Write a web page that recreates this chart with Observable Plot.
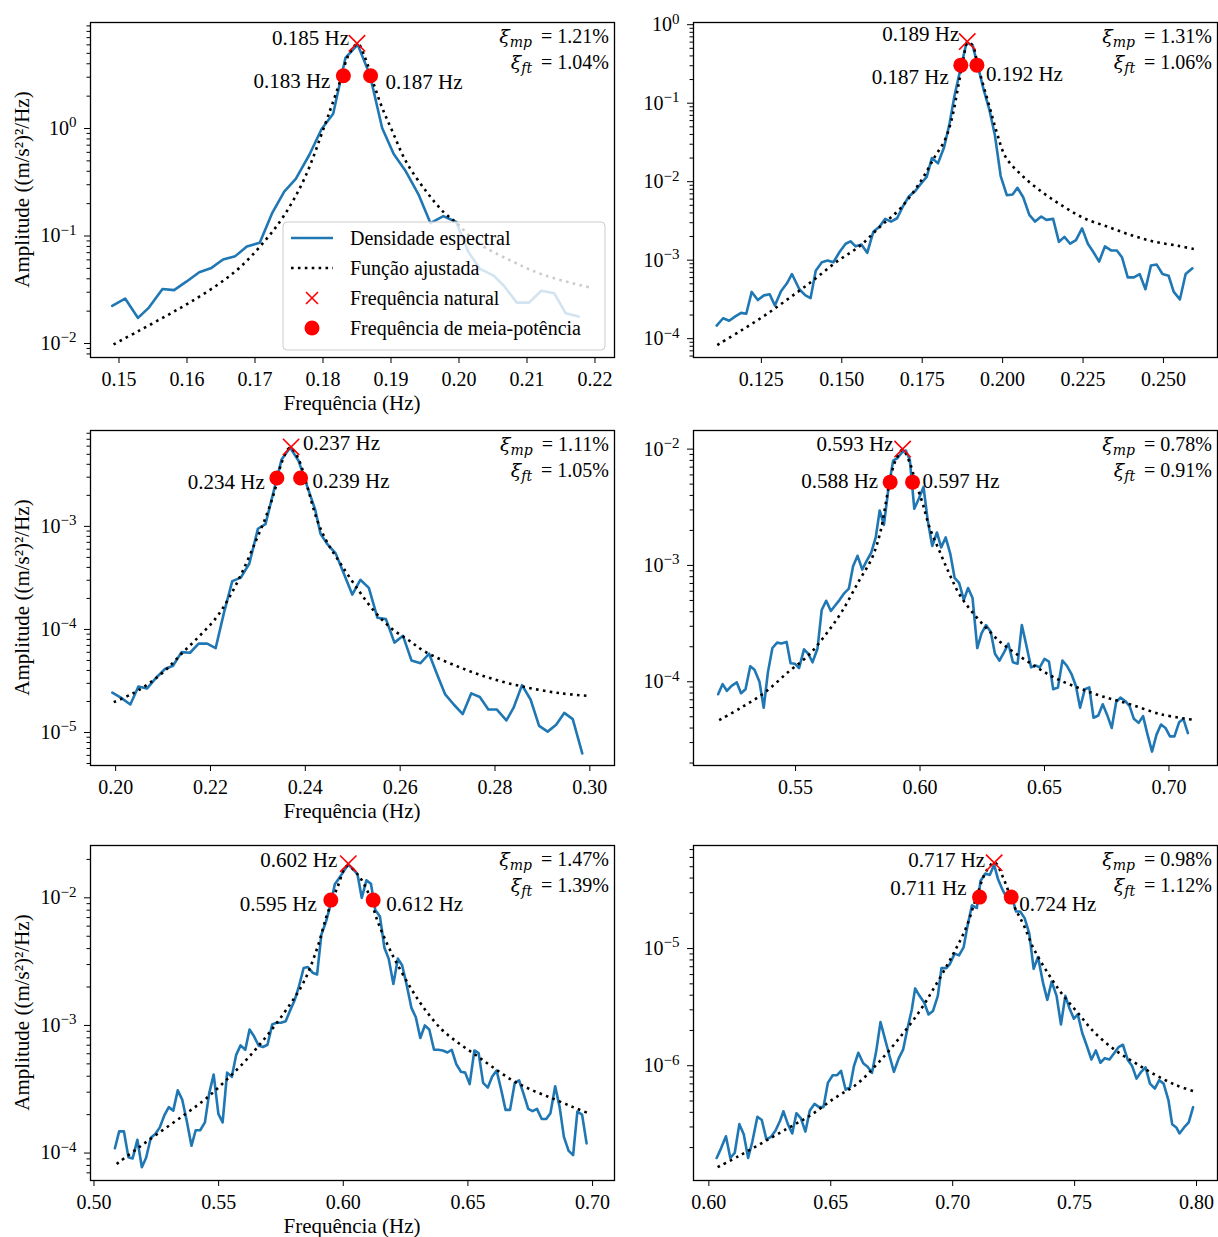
<!DOCTYPE html>
<html><head><meta charset="utf-8">
<script src="https://cdn.jsdelivr.net/npm/d3@7"></script>
<script src="https://cdn.jsdelivr.net/npm/@observablehq/plot@0.6"></script>
<style>
body{margin:0;background:#fff;}
#wrap{position:relative;width:1218px;height:1237px;overflow:hidden;}
.panel{position:absolute;}
</style>
</head><body><div id="wrap"></div>
<script>
// ---------- Panel 1 ----------
const psd1F = [0.1490,0.1509,0.1528,0.1544,0.1564,0.1581,0.1599,0.1618,0.1636,0.1653,0.1671,0.1688,0.1707,0.1725,0.1743,0.1760,0.1780,0.1798,0.1815,0.1833,0.1851,0.1869,0.1887,0.1904,0.1922,0.1941,0.1958,0.1977,0.1996,0.2014,0.2031,0.2051,0.2066,0.2085,0.2103,0.2121,0.2140,0.2157,0.2176];
const psd1A = [0.0224,0.0262,0.0173,0.0216,0.0321,0.0314,0.0376,0.046,0.0505,0.0604,0.065,0.080,0.0866,0.162,0.259,0.34,0.57,0.99,1.37,4.53,6.03,3.14,1.01,0.579,0.398,0.240,0.132,0.153,0.135,0.0708,0.0494,0.0428,0.0345,0.024,0.024,0.031,0.0294,0.0191,0.0178];
const fit1F = [0.1492,0.1529,0.1569,0.1604,0.1643,0.1678,0.1713,0.1743,0.1773,0.1803,0.1817,0.1827,0.1837,0.1851,0.1862,0.1875,0.1887,0.1902,0.1922,0.1952,0.1977,0.1997,0.2026,0.2076,0.2126,0.2196];
const fit1A = [0.0098,0.0131,0.0180,0.0241,0.0345,0.0512,0.0878,0.156,0.345,1.09,1.94,2.99,4.73,6.13,4.53,2.55,1.56,0.944,0.494,0.259,0.168,0.131,0.0879,0.0591,0.0431,0.0328];
// ---------- Panel 2 ----------
const psd2F = [0.1111,0.1131,0.1150,0.1169,0.1187,0.1203,0.1220,0.1239,0.1258,0.1276,
0.1292,0.1311,0.1329,0.1345,0.1368,0.1387,0.1403,0.1419,0.1438,0.1456,
0.1474,0.1493,0.1512,0.1527,0.1543,0.1561,0.1579,0.1598,0.1617,0.1635,
0.1653,0.1672,0.1690,0.1709,0.1728,0.1746,0.1764,0.1780,0.1799,0.1818,
0.1835,0.1851,0.1870,0.1888,0.1907,0.1923,0.1941,0.1959,0.1976,0.1994,
0.2013,0.2031,0.2046,0.2064,0.2083,0.2101,0.2120,0.2136,0.2157,0.2175,
0.2192,0.2210,0.2228,0.2247,0.2265,0.2282,0.2300,0.2318,0.2337,0.2355,
0.2371,0.2389,0.2408,0.2426,0.2444,0.2461,0.2479,0.2497,0.2516,0.2532,
0.2551,0.2569,0.2590];
const psd2A = [1.47e-4,1.82e-4,1.69e-4,1.92e-4,2.13e-4,2.08e-4,3.94e-4,3.10e-4,3.56e-4,3.67e-4,
2.64e-4,4.01e-4,5.04e-4,6.66e-4,4.26e-4,3.56e-4,3.29e-4,7.35e-4,9.42e-4,9.90e-4,
9.42e-4,1.27e-3,1.62e-3,1.74e-3,1.50e-3,1.58e-3,1.24e-3,2.30e-3,2.67e-3,3.36e-3,
3.10e-3,3.42e-3,4.84e-3,6.53e-3,7.57e-3,9.42e-3,1.15e-2,2.00e-2,1.71e-2,2.75e-2,
5.51e-2,0.128,0.284,0.597,0.541,0.298,0.149,0.082,0.039,1.18e-2,
6.73e-3,6.86e-3,8.36e-3,6.33e-3,3.78e-3,3.10e-3,3.60e-3,3.26e-3,3.36e-3,1.71e-3,
1.98e-3,1.62e-3,1.80e-3,2.54e-3,1.62e-3,1.27e-3,9.60e-4,1.50e-3,1.33e-3,1.33e-3,
1.09e-3,6.03e-4,6.03e-4,6.66e-4,4.26e-4,8.53e-4,8.79e-4,6.66e-4,6.33e-4,3.94e-4,
3.16e-4,6.66e-4,7.88e-4];
const fit2F = [0.1113,0.1187,0.1261,0.1334,0.1408,0.1482,0.1556,0.1619,0.1683,0.1746,0.1788,0.1820,0.1841,0.1862,0.1878,0.1891,0.1906,0.1923,0.1941,0.1962,0.1983,0.2010,0.2062,0.2126,0.2189,0.2253,0.2326,0.2400,0.2474,0.2547,0.2600];
const fit2A = [8.3e-5,1.27e-4,1.98e-4,3.23e-4,5.41e-4,9.42e-4,1.52e-3,2.67e-3,4.61e-3,1.02e-2,2.04e-2,3.36e-2,6.08e-2,0.164,0.363,0.585,0.551,0.298,0.164,0.082,0.0409,0.0204,0.0118,7.21e-3,4.84e-3,3.42e-3,2.67e-3,2.08e-3,1.71e-3,1.52e-3,1.37e-3];
// ---------- Panel 3 ----------
const psd3F = [0.1993,0.2011,0.2031,0.2048,0.2066,0.2086,0.2104,0.2121,0.2139,0.2157,
0.2175,0.2193,0.2211,0.2229,0.2246,0.2264,0.2282,0.2300,0.2316,0.2334,
0.2350,0.2368,0.2386,0.2404,0.2421,0.2432,0.2446,0.2464,0.2482,0.2499,
0.2516,0.2534,0.2552,0.2570,0.2588,0.2606,0.2624,0.2643,0.2661,0.2679,
0.2695,0.2713,0.2732,0.2750,0.2768,0.2786,0.2804,0.2824,0.2839,0.2857,
0.2875,0.2893,0.2911,0.2929,0.2946,0.2964,0.2984];
const psd3A = [2.44e-5,2.18e-5,1.87e-5,2.79e-5,2.67e-5,3.42e-5,4.13e-5,4.45e-5,6.03e-5,5.94e-5,
7.28e-5,7.28e-5,6.60e-5,1.49e-4,2.94e-4,3.18e-4,4.36e-4,9.48e-4,1.05e-3,2.26e-3,
4.46e-3,5.81e-3,4.30e-3,2.44e-3,1.44e-3,8.47e-4,6.76e-4,5.47e-4,3.42e-4,2.18e-4,
3.03e-4,2.53e-4,1.30e-4,1.26e-4,7.45e-5,8.67e-5,4.99e-5,4.70e-5,5.81e-5,3.56e-5,
2.34e-5,1.87e-5,1.51e-5,2.40e-5,2.21e-5,1.67e-5,1.67e-5,1.31e-5,1.73e-5,2.88e-5,
2.09e-5,1.16e-5,1.02e-5,1.19e-5,1.55e-5,1.35e-5,6.27e-6];
const fit3F = [0.1996,0.2032,0.2068,0.2104,0.2139,0.2175,0.2211,0.2239,0.2268,0.2296,0.2318,0.2336,0.2350,0.2368,0.2386,0.2404,0.2425,0.2446,0.2475,0.2511,0.2546,0.2582,0.2618,0.2654,0.2725,0.2796,0.2868,0.2939,0.3000];
const fit3A = [1.97e-5,2.34e-5,2.94e-5,3.98e-5,5.81e-5,8.47e-5,1.28e-4,2.02e-4,3.69e-4,7.28e-4,1.28e-3,2.26e-3,4.13e-3,5.81e-3,4.46e-3,2.44e-3,1.15e-3,7.01e-4,4.30e-4,2.44e-4,1.49e-4,1.02e-4,7.85e-5,6.03e-5,4.30e-5,3.30e-5,2.73e-5,2.40e-5,2.26e-5];
// ---------- Panel 4 ----------
const psd4F = [0.5189,0.5207,0.5224,0.5243,0.5264,0.5281,0.5299,0.5318,0.5335,0.5355,
0.5372,0.5389,0.5407,0.5426,0.5443,0.5464,0.5480,0.5497,0.5514,0.5534,
0.5551,0.5568,0.5588,0.5605,0.5623,0.5642,0.5659,0.5677,0.5696,0.5714,
0.5731,0.5749,0.5768,0.5785,0.5804,0.5822,0.5838,0.5855,0.5873,0.5892,
0.5909,0.5927,0.5943,0.5959,0.5977,0.5995,0.6014,0.6031,0.6049,0.6068,
0.6085,0.6103,0.6122,0.6139,0.6157,0.6176,0.6193,0.6211,0.6230,0.6247,
0.6265,0.6284,0.6301,0.6319,0.6338,0.6355,0.6373,0.6392,0.6409,0.6427,
0.6446,0.6464,0.6481,0.6500,0.6518,0.6535,0.6554,0.6572,0.6589,0.6608,
0.6626,0.6643,0.6662,0.6680,0.6697,0.6716,0.6734,0.6751,0.6770,0.6788,
0.6805,0.6824,0.6842,0.6859,0.6878,0.6896,0.6914,0.6932,0.6950,0.6968,
0.6986,0.7004,0.7022,0.7041,0.7058,0.7076];
const psd4A = [7.81e-5,9.55e-5,8.36e-5,9.23e-5,9.86e-5,7.96e-5,8.63e-5,1.36e-4,1.27e-4,1.00e-4,
5.98e-5,1.21e-4,1.95e-4,2.17e-4,2.13e-4,2.20e-4,1.44e-4,1.43e-4,1.31e-4,1.90e-4,
1.74e-4,1.47e-4,1.92e-4,4.14e-4,4.97e-4,4.06e-4,4.52e-4,5.06e-4,5.78e-4,6.31e-4,
9.86e-4,1.21e-3,9.23e-4,1.09e-3,1.29e-3,1.74e-3,2.97e-3,2.23e-3,4.58e-3,7.96e-3,
8.36e-3,9.35e-3,9.73e-3,8.07e-3,3.07e-3,3.75e-3,4.73e-3,2.43e-3,1.47e-3,1.92e-3,
1.43e-3,1.74e-3,1.25e-3,7.81e-4,7.07e-4,5.06e-4,6.40e-4,5.24e-4,1.95e-4,2.60e-4,
3.07e-4,2.69e-4,1.74e-4,1.52e-4,1.80e-4,2.13e-4,1.47e-4,1.43e-4,3.07e-4,2.06e-4,
1.33e-4,1.38e-4,1.33e-4,1.57e-4,1.49e-4,8.63e-5,8.93e-5,1.52e-4,1.38e-4,1.17e-4,
9.23e-5,5.98e-5,8.63e-5,8.93e-5,4.90e-5,5.13e-5,6.40e-5,5.24e-5,4.01e-5,6.70e-5,
7.31e-5,6.84e-5,6.18e-5,4.80e-5,4.43e-5,5.06e-5,3.51e-5,2.51e-5,3.51e-5,4.29e-5,
4.01e-5,3.39e-5,3.39e-5,4.49e-5,4.80e-5,3.62e-5];
const fit4F = [0.5193,0.5281,0.5376,0.5470,0.5551,0.5619,0.5686,0.5754,0.5808,0.5842,0.5862,0.5882,0.5903,0.5930,0.5957,0.5984,0.6011,0.6038,0.6078,0.6119,0.6159,0.6214,0.6268,0.6322,0.6376,0.6457,0.6538,0.6632,0.6727,0.6835,0.6970,0.7092];
const fit4A = [4.68e-5,5.98e-5,8.07e-5,1.21e-4,1.68e-4,2.51e-4,4.01e-4,7.31e-4,1.17e-3,1.99e-3,3.39e-3,5.78e-3,8.07e-3,9.86e-3,7.81e-3,5.06e-3,3.39e-3,2.13e-3,1.33e-3,8.36e-4,5.60e-4,3.87e-4,2.87e-4,2.20e-4,1.80e-4,1.38e-4,1.09e-4,8.93e-5,7.55e-5,6.49e-5,5.24e-5,4.73e-5];
// ---------- Panel 5 ----------
const psd5F = [0.5084,0.5101,0.5120,0.5138,0.5155,0.5174,0.5192,0.5209,0.5228,0.5246,
0.5264,0.5282,0.5300,0.5318,0.5336,0.5354,0.5372,0.5391,0.5408,0.5426,
0.5445,0.5462,0.5480,0.5499,0.5516,0.5534,0.5553,0.5570,0.5588,0.5607,
0.5624,0.5642,0.5661,0.5678,0.5696,0.5715,0.5732,0.5750,0.5769,0.5786,
0.5804,0.5823,0.5841,0.5858,0.5877,0.5895,0.5912,0.5931,0.5949,0.5966,
0.5985,0.6003,0.6020,0.6039,0.6057,0.6074,0.6093,0.6111,0.6128,0.6147,
0.6165,0.6182,0.6201,0.6219,0.6236,0.6255,0.6273,0.6291,0.6309,0.6327,
0.6345,0.6364,0.6381,0.6399,0.6418,0.6435,0.6453,0.6472,0.6489,0.6507,
0.6526,0.6543,0.6561,0.6580,0.6597,0.6615,0.6634,0.6651,0.6669,0.6688,
0.6705,0.6723,0.6742,0.6759,0.6777,0.6796,0.6814,0.6831,0.6850,0.6868,
0.6885,0.6904,0.6922,0.6939,0.6958,0.6976];
const psd5A = [1.09e-4,1.48e-4,1.48e-4,9.29e-5,9.08e-5,1.27e-4,7.74e-5,9.18e-5,1.32e-4,1.41e-4,
1.59e-4,1.97e-4,2.29e-4,2.15e-4,3.10e-4,2.62e-4,1.79e-4,1.14e-4,1.51e-4,1.51e-4,
1.74e-4,2.92e-4,4.13e-4,2.03e-4,1.74e-4,4.27e-4,3.96e-4,5.85e-4,6.98e-4,6.45e-4,
9.29e-4,8.22e-4,6.93e-4,6.78e-4,7.06e-4,1.02e-3,1.05e-3,1.05e-3,1.08e-3,1.30e-3,
1.56e-3,2.05e-3,2.82e-3,2.87e-3,2.59e-3,2.51e-3,5.12e-3,6.53e-3,8.85e-3,1.28e-2,
1.44e-2,1.63e-2,1.82e-2,1.68e-2,1.53e-2,1.00e-2,1.37e-2,1.29e-2,8.08e-3,7.15e-3,
4.06e-3,3.34e-3,2.11e-3,3.34e-3,2.96e-3,2.05e-3,1.38e-3,1.16e-3,7.98e-4,1.00e-3,
9.29e-4,6.45e-4,6.45e-4,6.37e-4,6.14e-4,6.45e-4,4.99e-4,4.34e-4,4.27e-4,3.47e-4,
6.37e-4,6.07e-4,3.55e-4,3.26e-4,3.96e-4,4.43e-4,3.10e-4,2.18e-4,2.18e-4,3.55e-4,
3.72e-4,2.92e-4,2.22e-4,2.13e-4,2.22e-4,1.85e-4,1.85e-4,2.05e-4,3.34e-4,2.29e-4,
1.34e-4,1.04e-4,9.64e-5,2.11e-4,2.00e-4,1.19e-4];
const fit5F = [0.5091,0.5178,0.5273,0.5368,0.5449,0.5530,0.5611,0.5692,0.5773,0.5841,0.5895,0.5935,0.5976,0.6016,0.6057,0.6097,0.6138,0.6178,0.6219,0.6273,0.6327,0.6395,0.6462,0.6530,0.6597,0.6678,0.6759,0.6841,0.6922,0.6989];
const fit5A = [8.22e-5,1.10e-4,1.50e-4,2.03e-4,2.67e-4,3.72e-4,5.37e-4,8.22e-4,1.34e-3,2.18e-3,4.01e-3,7.38e-3,1.20e-2,1.78e-2,1.53e-2,1.13e-2,6.53e-3,4.27e-3,2.96e-3,1.93e-3,1.34e-3,9.29e-4,7.28e-4,5.89e-4,4.75e-4,3.72e-4,3.10e-4,2.67e-4,2.29e-4,2.03e-4];
// ---------- Panel 6 ----------
const psd6F = [0.6032,0.6050,0.6070,0.6088,0.6106,0.6125,0.6143,0.6161,0.6178,0.6199,
0.6217,0.6236,0.6255,0.6273,0.6292,0.6306,0.6324,0.6342,0.6359,0.6377,
0.6396,0.6414,0.6433,0.6452,0.6470,0.6488,0.6508,0.6526,0.6542,0.6561,
0.6579,0.6595,0.6613,0.6633,0.6651,0.6669,0.6686,0.6704,0.6723,0.6741,
0.6759,0.6779,0.6797,0.6815,0.6832,0.6846,0.6864,0.6883,0.6901,0.6919,
0.6939,0.6954,0.6974,0.6989,0.7008,0.7026,0.7045,0.7061,0.7079,0.7099,
0.7114,0.7134,0.7152,0.7170,0.7186,0.7204,0.7224,0.7242,0.7260,0.7277,
0.7295,0.7314,0.7332,0.7350,0.7370,0.7388,0.7406,0.7426,0.7444,0.7462,
0.7478,0.7497,0.7513,0.7531,0.7551,0.7569,0.7587,0.7606,0.7624,0.7643,
0.7662,0.7680,0.7698,0.7718,0.7736,0.7754,0.7773,0.7791,0.7809,0.7829,
0.7847,0.7865,0.7885,0.7900,0.7917,0.7930,0.7949,0.7968,0.7986];
const psd6A = [1.63e-7,1.97e-7,2.50e-7,1.63e-7,1.80e-7,3.17e-7,2.60e-7,1.63e-7,2.23e-7,3.67e-7,
3.44e-7,2.35e-7,2.47e-7,2.78e-7,3.39e-7,4.08e-7,3.17e-7,2.64e-7,3.93e-7,3.57e-7,
2.74e-7,4.14e-7,4.72e-7,4.43e-7,4.43e-7,7.13e-7,8.30e-7,8.30e-7,9.05e-7,6.24e-7,
6.58e-7,9.93e-7,1.29e-6,1.05e-6,9.80e-7,8.69e-7,1.32e-6,2.36e-6,1.67e-6,1.21e-6,
8.87e-7,1.16e-6,1.38e-6,2.10e-6,2.99e-6,4.57e-6,3.95e-6,3.46e-6,2.74e-6,2.93e-6,
3.95e-6,6.81e-6,6.81e-6,7.41e-6,9.06e-6,8.75e-6,1.03e-5,1.57e-5,2.34e-5,2.22e-5,
3.77e-5,4.37e-5,4.25e-5,5.19e-5,3.90e-5,3.19e-5,2.67e-5,2.80e-5,2.07e-5,2.07e-5,
1.82e-5,1.35e-5,6.71e-6,8.47e-6,5.15e-6,3.65e-6,5.22e-6,3.95e-6,2.25e-6,3.95e-6,
3.13e-6,2.52e-6,2.74e-6,1.91e-6,1.46e-6,1.13e-6,1.35e-6,1.06e-6,1.16e-6,1.13e-6,
1.28e-6,1.44e-6,1.51e-6,1.12e-6,9.93e-7,7.76e-7,8.87e-7,9.68e-7,7.03e-7,6.37e-7,
7.52e-7,7.03e-7,5.05e-7,3.17e-7,2.97e-7,2.64e-7,2.97e-7,3.28e-7,4.43e-7];
const fit6F = [0.6036,0.6122,0.6220,0.6317,0.6414,0.6512,0.6609,0.6693,0.6776,0.6860,0.6929,0.6999,0.7054,0.7096,0.7138,0.7172,0.7207,0.7249,0.7291,0.7332,0.7388,0.7444,0.7513,0.7583,0.7666,0.7750,0.7833,0.7917,0.8000];
const fit6A = [1.36e-7,1.69e-7,2.20e-7,2.87e-7,3.74e-7,5.22e-7,7.03e-7,1.05e-6,1.67e-6,2.83e-6,4.82e-6,8.75e-6,1.49e-5,2.70e-5,4.60e-5,5.43e-5,4.03e-5,2.37e-5,1.59e-5,1.00e-5,6.28e-6,4.22e-6,2.83e-6,1.91e-6,1.36e-6,1.05e-6,8.30e-7,6.81e-7,5.96e-7];

// ---------- Peaks & damping ----------
const naturalFreq = [0.185, 0.189, 0.237, 0.593, 0.602, 0.717];
const naturalAmp  = [6.2, 0.61, 5.9e-3, 1.0e-2, 1.85e-2, 5.4e-5];
const halfLowFreq  = [0.183, 0.187, 0.234, 0.588, 0.595, 0.711];
const halfHighFreq = [0.187, 0.192, 0.239, 0.597, 0.612, 0.724];
const halfAmp = [3.1, 0.305, 2.95e-3, 5.2e-3, 9.6e-3, 2.75e-5];
const xiMp = ["1.21", "1.31", "1.11", "0.78", "1.47", "0.98"];
const xiFt = ["1.04", "1.06", "1.05", "0.91", "1.39", "1.12"];

// ---------- Tick labels ----------
const xTicks = [
  [0.15, 0.16, 0.17, 0.18, 0.19, 0.20, 0.21, 0.22],
  [0.125, 0.150, 0.175, 0.200, 0.225, 0.250],
  [0.20, 0.22, 0.24, 0.26, 0.28, 0.30],
  [0.55, 0.60, 0.65, 0.70],
  [0.50, 0.55, 0.60, 0.65, 0.70],
  [0.60, 0.65, 0.70, 0.75, 0.80]
];
const xTickFormat = [".2f", ".3f", ".2f", ".2f", ".2f", ".2f"];
const xLabel = "Frequência (Hz)";
const yLabel = "Amplitude ((m/s²)²/Hz)";
const legendLabels = ["Densidade espectral", "Função ajustada", "Frequência natural", "Frequência de meia-potência"];

// ---------- Layout (scale domains) ----------
const xDomains = [[0.14581, 0.22287], [0.1039, 0.2668], [0.1947, 0.3052], [0.509, 0.7195], [0.4986, 0.7088], [0.5937, 0.8086]];
const yLogDomains = [[-2.13, 0.986], [-4.24, 0.028], [-5.32, -2.07], [-4.72, -1.84], [-4.215, -1.59], [-6.98, -4.12]];
// label offsets: [dx, dy, anchor] for natural, low, high
const labelStyle = [
  [[-8,-5,"end"],[-13,6,"end"],[15,7,"start"]],
  [[-8,-7,"end"],[-12,12,"end"],[9,9,"start"]],
  [[12,-4,"start"],[-12,4,"end"],[12,3,"start"]],
  [[-9,-5,"end"],[-12,-1,"end"],[10,-1,"start"]],
  [[-11,-3,"end"],[-14,4,"end"],[13,4,"start"]],
  [[-9,-3,"end"],[-13,-9,"end"],[8,7,"start"]]
];

const psdF = [psd1F, psd2F, psd3F, psd4F, psd5F, psd6F];
const psdA = [psd1A, psd2A, psd3A, psd4A, psd5A, psd6A];
const fitF = [fit1F, fit2F, fit3F, fit4F, fit5F, fit6F];
const fitA = [fit1A, fit2A, fit3A, fit4A, fit5A, fit6A];

const BLUE = "#1f77b4";
const FONT = "'Liberation Serif', 'Times New Roman', serif";
const MATHFONT = "'DejaVu Serif', serif";
const frameLefts = [90, 693];
const frameTops = [22, 430, 845];
const FW = 524, FH = 335;
const fmt3 = d3.format(".3f");

const wrap = document.getElementById("wrap");

for (let i = 0; i < 6; i++) {
  const col = i % 2, row = Math.floor(i / 2);
  const mL = col ? 70 : 90, mR = col ? 1 : 10, mT = 22, mB = 70;
  const W = mL + FW + mR, H = mT + FH + mB;
  const n = Math.min(psdF[i].length, psdA[i].length);
  const psd = d3.range(n).map(k => ({f: psdF[i][k], a: psdA[i][k]}));
  const m = Math.min(fitF[i].length, fitA[i].length);
  const fit = d3.range(m).map(k => ({f: fitF[i][k], a: fitA[i][k]}));
  const nat = [{f: naturalFreq[i], a: naturalAmp[i]}];
  const low = [{f: halfLowFreq[i], a: halfAmp[i]}];
  const high = [{f: halfHighFreq[i], a: halfAmp[i]}];
  const [lo, hi] = yLogDomains[i];
  const majors = d3.range(Math.ceil(lo), Math.floor(hi) + 1).map(e => Math.pow(10, e));
  const minors = [];
  for (let e = Math.floor(lo); e <= Math.ceil(hi); e++) for (let k = 2; k <= 9; k++) {
    const v = k * Math.pow(10, e);
    if (Math.log10(v) >= lo && Math.log10(v) <= hi) minors.push(v);
  }
  const ls = labelStyle[i];
  const plot = Plot.plot({
    width: W, height: H, marginLeft: mL, marginRight: mR, marginTop: mT, marginBottom: mB,
    x: {domain: xDomains[i]},
    y: {type: "log", domain: [Math.pow(10, lo), Math.pow(10, hi)]},
    style: {fontFamily: FONT, fontSize: "20px", background: "transparent", overflow: "visible", color: "black"},
    marks: [
      Plot.line(psd, {x: "f", y: "a", stroke: BLUE, strokeWidth: 2.6}),
      Plot.line(fit, {x: "f", y: "a", stroke: "black", strokeWidth: 2.6, strokeDasharray: "2.6,4.3", strokeLinecap: "butt", curve: "catmull-rom"}),
      Plot.dot(nat, {x: "f", y: "a", symbol: "times", r: 7.5, stroke: "red", strokeWidth: 1.6}),
      Plot.dot(low.concat(high), {x: "f", y: "a", r: 7.5, fill: "red", stroke: "none"}),
      Plot.text(nat, {x: "f", y: "a", text: d => fmt3(d.f) + " Hz", dx: ls[0][0], dy: ls[0][1], textAnchor: ls[0][2], fontSize: 21}),
      Plot.text(low, {x: "f", y: "a", text: d => fmt3(d.f) + " Hz", dx: ls[1][0], dy: ls[1][1], textAnchor: ls[1][2], fontSize: 21}),
      Plot.text(high, {x: "f", y: "a", text: d => fmt3(d.f) + " Hz", dx: ls[2][0], dy: ls[2][1], textAnchor: ls[2][2], fontSize: 21}),
      Plot.axisX({ticks: xTicks[i], tickFormat: d3.format(xTickFormat[i]), tickSize: 6, tickPadding: 8, label: null, fontSize: 20}),
      Plot.axisY({ticks: majors, tickFormat: d => "10^" + Math.round(Math.log10(d)), tickSize: 6, tickPadding: 8, label: null, fontSize: 20}),
      Plot.axisY({ticks: minors, tickFormat: () => "", tickSize: 3.5, label: null}),
      Plot.frame({stroke: "black", strokeWidth: 1.3})
    ]
  });
  const svg = d3.select(plot);
  // superscript exponents on log tick labels
  svg.selectAll("text").each(function() {
    const t = this.textContent;
    const mm = /^10\^(-?\d+)$/.exec(t);
    if (mm) {
      const sel = d3.select(this);
      sel.text(null);
      sel.append("tspan").text("10");
      sel.append("tspan").attr("font-size", "15px").attr("dy", "-0.5em").text(mm[1].replace("-", "\u2212"));
    }
  });
  const g = svg.append("g").attr("font-family", FONT).attr("fill", "black");
  // damping annotation
  const rx = mL + FW - 5;
  [["mp", xiMp[i], 15], ["ft", xiFt[i], 41]].forEach(([sub, val, yy]) => {
    const t = g.append("text").attr("x", rx).attr("y", mT + yy + 6).attr("text-anchor", "end").attr("font-size", "20px");
    t.append("tspan").attr("font-family", MATHFONT).attr("font-style", "italic").attr("font-size", "19px").text("ξ");
    t.append("tspan").attr("font-family", MATHFONT).attr("font-style", "italic").attr("font-size", "14px").attr("dy", "4").text(sub);
    t.append("tspan").attr("dy", "-4").text("\u2009 = " + val + "%");
  });
  if (col === 0) {
    g.append("text").attr("x", mL + FW / 2).attr("y", mT + FH + 53).attr("text-anchor", "middle").attr("font-size", "21px").text(xLabel);
    g.append("text").attr("transform", `translate(${29 - (frameLefts[0] - mL)},${mT + FH / 2}) rotate(-90)`)
      .attr("text-anchor", "middle").attr("font-size", "21px").text(yLabel);
  }
  if (i === 0) {
    const bw = 322, bh = 128;
    const bx = mL + FW - 9 - bw, by = mT + FH - 7 - bh;
    const lg = svg.append("g").attr("font-family", FONT);
    lg.append("rect").attr("x", bx).attr("y", by).attr("width", bw).attr("height", bh).attr("rx", 4)
      .attr("fill", "white").attr("fill-opacity", 0.8).attr("stroke", "#cccccc").attr("stroke-width", 1);
    legendLabels.forEach((lab, k) => {
      const yy = by + 16 + 30 * k;
      if (k === 0) lg.append("line").attr("x1", bx + 8).attr("x2", bx + 50).attr("y1", yy).attr("y2", yy).attr("stroke", BLUE).attr("stroke-width", 2.6);
      if (k === 1) lg.append("line").attr("x1", bx + 8).attr("x2", bx + 50).attr("y1", yy).attr("y2", yy).attr("stroke", "black").attr("stroke-width", 2.6).attr("stroke-dasharray", "2.6,4.3");
      if (k === 2) lg.append("path").attr("d", `M${bx+23},${yy-6}L${bx+35},${yy+6}M${bx+23},${yy+6}L${bx+35},${yy-6}`).attr("stroke", "red").attr("stroke-width", 1.6).attr("fill", "none");
      if (k === 3) lg.append("circle").attr("cx", bx + 29).attr("cy", yy).attr("r", 7.5).attr("fill", "red");
      lg.append("text").attr("x", bx + 67).attr("y", yy + 7).attr("text-anchor", "start").attr("font-size", "20px").attr("fill", "black").text(lab);
    });
  }
  const div = document.createElement("div");
  div.className = "panel";
  div.style.left = (frameLefts[col] - mL) + "px";
  div.style.top = (frameTops[row] - mT) + "px";
  div.style.width = W + "px";
  div.style.height = H + "px";
  div.appendChild(plot);
  wrap.appendChild(div);
}
</script>
</body></html>
